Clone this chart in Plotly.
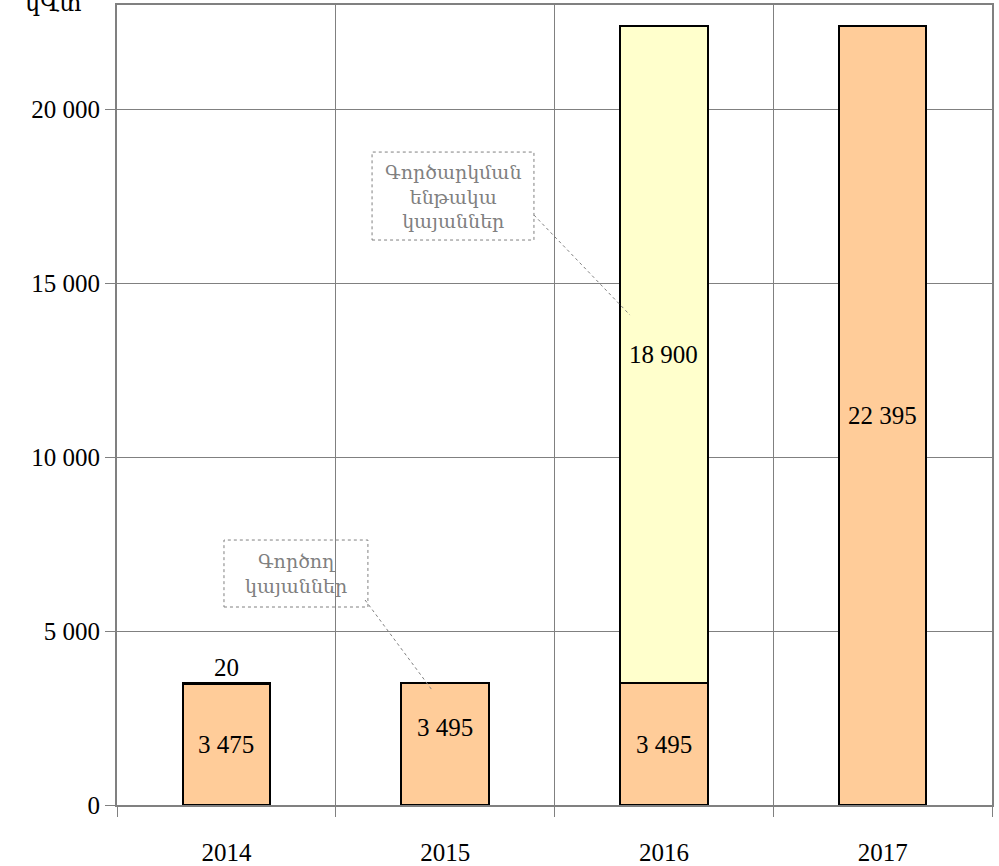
import plotly.graph_objects as go

years = ["2014", "2015", "2016", "2017"]
operating = [3475, 3495, 3495, 22395]
planned = [20, 0, 18900, 0]
operating_labels = ["3 475", "3 495", "3 495", "22 395"]
planned_labels = ["20", "", "18 900", ""]
y_ticks = [0, 5000, 10000, 15000, 20000]
y_tick_text = ["0", "5 000", "10 000", "15 000", "20 000"]
unit_label = "կՎտ"
name_operating = "Գործող<br>կայաններ"
name_planned = "Գործարկման<br>ենթակա<br>կայաններ"

SERIF = "Liberation Serif, Times New Roman, DejaVu Serif, serif"
ARM = "DejaVu Serif, serif"
GRAY = "#808080"
FS = 25

fig = go.Figure()
fig.add_trace(go.Bar(x=years, y=operating, width=0.4,
                     marker=dict(color="#FFCC99", line=dict(color="black", width=2)),
                     name="operating", showlegend=False, hoverinfo="skip"))
fig.add_trace(go.Bar(x=years, y=planned, width=0.4,
                     marker=dict(color="#FFFFCC", line=dict(color="black", width=2)),
                     name="planned", showlegend=False, hoverinfo="skip"))

annotations = []
for i, (v, t) in enumerate(zip(operating, operating_labels)):
    ypos = v / 2
    if i == 1:
        ypos = v * 0.64
    annotations.append(dict(x=i, y=ypos, xref="x", yref="y", text=t, showarrow=False,
                            font=dict(family=SERIF, size=FS, color="black")))
for i, (v, t) in enumerate(zip(planned, planned_labels)):
    if not t:
        continue
    if v < 1000:
        annotations.append(dict(x=i, y=operating[i] + v, xref="x", yref="y", text=t,
                                showarrow=False, yanchor="bottom", yshift=0,
                                font=dict(family=SERIF, size=FS, color="black")))
    else:
        annotations.append(dict(x=i, y=operating[i] + v / 2, xref="x", yref="y", text=t,
                                showarrow=False, font=dict(family=SERIF, size=FS, color="black")))

annotations.append(dict(x=1.036, y=17500, xref="x", yref="y", text=name_planned, showarrow=False,
                        font=dict(family=ARM, size=19, color=GRAY)))
annotations.append(dict(x=0.318, y=6650, xref="x", yref="y", text=name_operating, showarrow=False,
                        font=dict(family=ARM, size=19, color=GRAY)))
annotations.append(dict(x=-0.073, y=1.0, xref="paper", yref="paper", xanchor="center", yanchor="middle",
                        yshift=2, text=unit_label, showarrow=False,
                        font=dict(family=ARM, size=24, color="black")))

shapes = [
    dict(type="rect", xref="x", yref="y", x0=0.666, x1=1.406, y0=16236, y1=18764,
         line=dict(color=GRAY, width=1, dash="dot"), fillcolor="rgba(0,0,0,0)", layer="above"),
    dict(type="rect", xref="x", yref="y", x0=-0.011, x1=0.647, y0=5690, y1=7615,
         line=dict(color=GRAY, width=1, dash="dot"), fillcolor="rgba(0,0,0,0)", layer="above"),
    dict(type="line", xref="x", yref="y", x0=1.406, y0=16954, x1=1.845, y1=14080,
         line=dict(color=GRAY, width=1, dash="dot"), layer="above"),
    dict(type="line", xref="x", yref="y", x0=0.634, y0=5891, x1=0.940, y1=3305,
         line=dict(color=GRAY, width=1, dash="dot"), layer="above"),
]

fig.update_layout(
    barmode="stack",
    width=999, height=866,
    margin=dict(l=117, r=7, t=5, b=61, autoexpand=False),
    plot_bgcolor="white", paper_bgcolor="white",
    separators=", ",
    annotations=annotations,
    shapes=shapes,
    font=dict(family=SERIF, size=FS, color="black"),
)
fig.update_xaxes(type="category", tickson="boundaries", showgrid=True, gridcolor=GRAY, gridwidth=1,
                 ticks="outside", ticklen=10, tickcolor=GRAY, showline=True, linecolor=GRAY,
                 linewidth=2, mirror=True, ticklabelstandoff=24, automargin=False,
                 tickfont=dict(family=SERIF, size=FS, color="black"))
fig.update_yaxes(range=[0, 22990], tickvals=y_ticks, ticktext=y_tick_text, showgrid=True,
                 gridcolor=GRAY, gridwidth=1, ticks="outside", ticklen=10, tickcolor=GRAY,
                 showline=True, linecolor=GRAY, linewidth=2, mirror=True, zeroline=False,
                 automargin=False, tickfont=dict(family=SERIF, size=FS, color="black"))

fig.write_html("out.html", config={"displayModeBar": False},
               post_script="document.body.style.margin='0px';")
